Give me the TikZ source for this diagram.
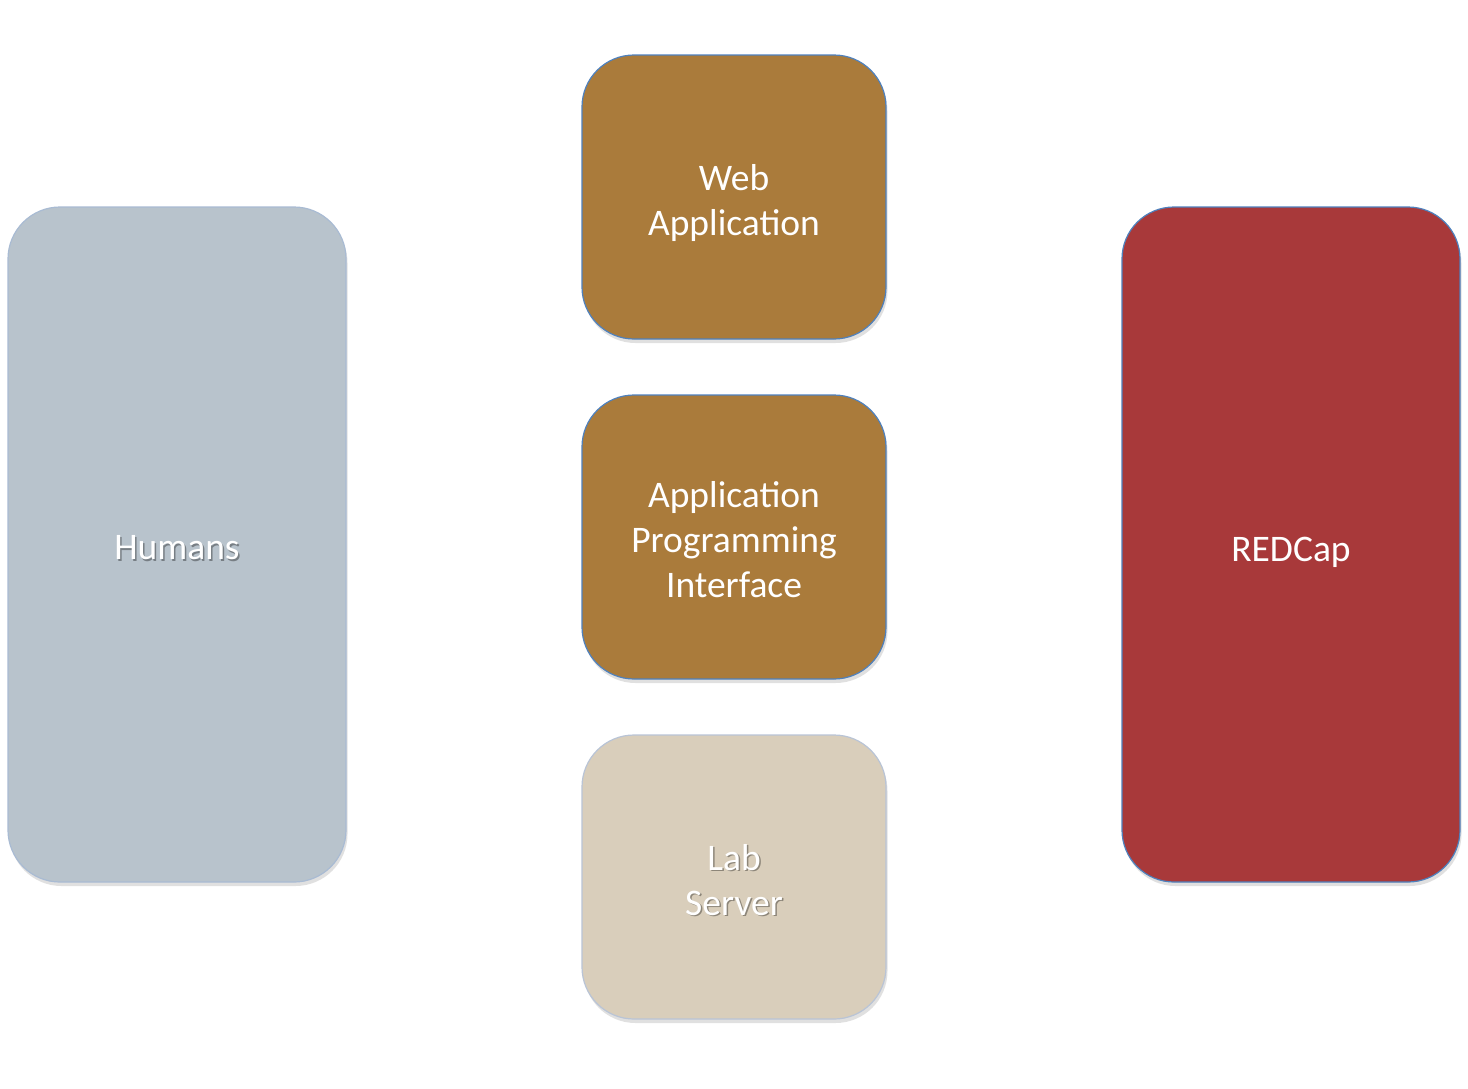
\documentclass[tikz,border=0pt]{standalone}
\usepackage{fontspec}
\setmainfont{Carlito}
\usetikzlibrary{shadows,calc}
\definecolor{humfill}{HTML}{B8C3CC}
\definecolor{humline}{HTML}{A9BBD3}
\definecolor{appfill}{HTML}{AA7B3B}
\definecolor{appline}{HTML}{4F81BD}
\definecolor{labfill}{HTML}{D9CEBB}
\definecolor{labline}{HTML}{B9C4D6}
\definecolor{redfill}{HTML}{A8393A}
\tikzset{
  box/.style={rounded corners=52pt, line width=1.2pt, inner sep=0pt,
    drop shadow={shadow xshift=1.5pt, shadow yshift=-4pt, opacity=0.2, fill=black!60}},
  lbl/.style={text=white, align=center, font=\fontsize{37.5}{45}\selectfont},
  lblsh/.style={text=black, opacity=0.35, align=center, font=\fontsize{37.5}{45}\selectfont},
}
\begin{document}
\begin{tikzpicture}[x=1pt,y=-1pt]
\useasboundingbox[fill=white] (0,0) rectangle (1468,1088);
% boxes
\filldraw[box, fill=humfill, draw=humline] (8,207) rectangle (346,882);
\filldraw[box, fill=appfill, draw=appline] (582,55) rectangle (886,339);
\filldraw[box, fill=appfill, draw=appline] (582,395) rectangle (886,679);
\filldraw[box, fill=labfill, draw=labline] (582,735) rectangle (886,1019);
\filldraw[box, fill=redfill, draw=appline] (1122,207) rectangle (1460,882);
% text shadows
\node[lblsh] at (178.5,549.5) {Humans};
\node[lblsh] at (735.5,881.5) {Lab\\Server};
% labels
\node[lbl] (hum) at (177,548) {Humans};
\node[lbl] (web) at (734,203) {Web\\Application};
\node[lbl] (api) at (734,540) {Application\\Programming\\Interface};
\node[lbl] (lab) at (734,880) {Lab\\Server};
\node[lbl] (red) at (1291,552) {REDCap};
\end{tikzpicture}
\end{document}
